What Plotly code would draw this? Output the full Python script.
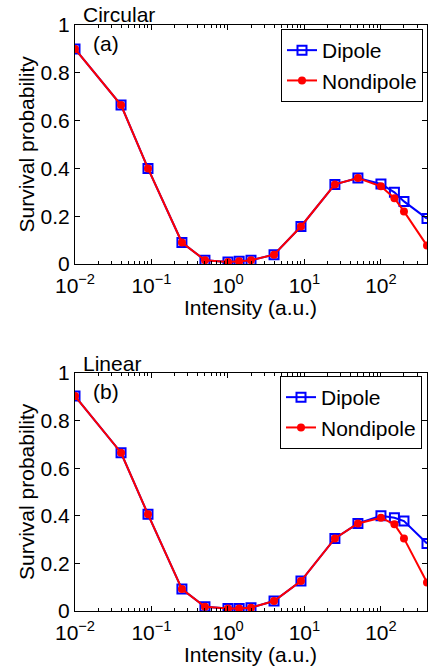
import numpy as np
import plotly.graph_objects as go

intensity = [0.01, 0.04, 0.09, 0.25, 0.5, 1.0, 1.4, 2.0, 4.0, 9.0, 25.0, 50.0, 100.0, 150.0, 200.0, 400.0]

circ_dipole = [0.90, 0.665, 0.40, 0.09, 0.016, 0.008, 0.011, 0.016, 0.039, 0.157, 0.333, 0.360, 0.335, 0.300, 0.262, 0.190]
circ_nondipole = [0.90, 0.665, 0.40, 0.09, 0.016, 0.008, 0.011, 0.016, 0.039, 0.157, 0.333, 0.360, 0.325, 0.275, 0.220, 0.077]

lin_dipole = [0.903, 0.665, 0.406, 0.092, 0.018, 0.010, 0.011, 0.014, 0.042, 0.126, 0.305, 0.368, 0.400, 0.392, 0.378, 0.284]
lin_nondipole = [0.903, 0.665, 0.406, 0.092, 0.018, 0.010, 0.011, 0.014, 0.042, 0.126, 0.305, 0.368, 0.392, 0.364, 0.305, 0.120]

panel_titles = ["Circular", "Linear"]
panel_labels = ["(a)", "(b)"]
y_ticks = [0, 0.2, 0.4, 0.6, 0.8, 1]
y_ticktext = ["0", "0.2", "0.4", "0.6", "0.8", "1"]
x_ticks = [0.01, 0.1, 1, 10, 100]
x_ticktext = ["10<sup>\u22122</sup>", "10<sup>\u22121</sup>", "10<sup>0</sup>", "10<sup>1</sup>", "10<sup>2</sup>"]

W, H = 429, 666
FONT = "Liberation Sans, Arial, Helvetica, sans-serif"
FS = 21

minor_vals = [m * 10.0 ** e for e in range(-2, 3) for m in range(2, 10) if m * 10.0 ** e <= 400]

fig = go.Figure()

# panel pixel geometry (left, right, top, bottom)
panels = [(75, 427, 25, 264), (75, 427, 373, 611)]
datasets = [(circ_dipole, circ_nondipole), (lin_dipole, lin_nondipole)]

for i, ((l, r, t, b), (dip, nond)) in enumerate(zip(panels, datasets)):
    xa = "x" if i == 0 else "x2"
    ya = "y" if i == 0 else "y2"
    lg = "legend" if i == 0 else "legend2"
    fig.add_trace(go.Scatter(
        x=intensity, y=dip, name="Dipole", mode="lines+markers",
        line=dict(color="#0000ff", width=2),
        marker=dict(symbol="square-open", size=9, color="#0000ff", line=dict(width=2, color="#0000ff")),
        xaxis=xa, yaxis=ya, legend=lg,
    ))
    fig.add_trace(go.Scatter(
        x=intensity, y=nond, name="Nondipole", mode="lines+markers",
        line=dict(color="#ff0000", width=2),
        marker=dict(symbol="circle", size=8, color="#ff0000"),
        xaxis=xa, yaxis=ya, legend=lg,
    ))

    axcommon = dict(showgrid=False, zeroline=False, showline=True, linecolor="black", linewidth=1,
                    mirror="ticks", ticks="inside", tickcolor="black", tickwidth=1, automargin=False,
                    tickfont=dict(family=FONT, size=FS, color="black"))
    xkey = "xaxis" if i == 0 else "xaxis2"
    ykey = "yaxis" if i == 0 else "yaxis2"
    fig.update_layout(**{
        xkey: dict(type="log", range=[-2, np.log10(400)], domain=[l / W, r / W],
                   anchor=ya, tickmode="array", tickvals=x_ticks, ticktext=x_ticktext, ticklen=5,
                   ticklabelstandoff=3,
                   minor=dict(ticks="inside", ticklen=3, tickmode="array", tickvals=minor_vals,
                              tickcolor="black", showgrid=False),
                   **axcommon),
        ykey: dict(range=[0, 1], domain=[1 - b / H, 1 - t / H], anchor=xa,
                   tickmode="array", tickvals=y_ticks, ticktext=y_ticktext, ticklen=5,
                   **axcommon),
    })

    # panel title
    fig.add_annotation(text=panel_titles[i], xref="paper", yref="paper",
                       x=81 / W, y=1 - (t - 10) / H, xanchor="left", yanchor="middle",
                       showarrow=False, font=dict(family=FONT, size=FS, color="black"))
    # panel label
    fig.add_annotation(text=panel_labels[i], xref="paper", yref="paper",
                       x=91 / W, y=1 - (t + 18) / H, xanchor="left", yanchor="middle",
                       showarrow=False, font=dict(family=FONT, size=FS, color="black"))
    # y axis title
    fig.add_annotation(text="Survival probability", xref="paper", yref="paper",
                       x=26 / W, y=1 - ((t + b) / 2) / H, xanchor="center", yanchor="middle",
                       textangle=-90, showarrow=False, font=dict(family=FONT, size=FS, color="black"))
    # x axis title
    fig.add_annotation(text="Intensity (a.u.)", xref="paper", yref="paper",
                       x=250 / W, y=1 - (b + 43) / H, xanchor="center", yanchor="middle",
                       showarrow=False, font=dict(family=FONT, size=FS, color="black"))

legend_common = dict(bgcolor="white", bordercolor="black", borderwidth=1,
                     font=dict(family=FONT, size=FS, color="black"),
                     xanchor="right", yanchor="top", itemwidth=30, tracegroupgap=0,
                     xref="paper", yref="paper")
fig.update_layout(
    template="none",
    width=W, height=H, margin=dict(l=0, r=0, t=0, b=0, autoexpand=False),
    paper_bgcolor="white", plot_bgcolor="white",
    legend=dict(x=423 / W, y=1 - 29 / H, **legend_common),
    legend2=dict(x=422 / W, y=1 - 376 / H, **legend_common),
)

fig.write_html("out.html", config={"displayModeBar": False},
               post_script="document.body.style.margin='0';document.body.style.overflow='hidden';")
